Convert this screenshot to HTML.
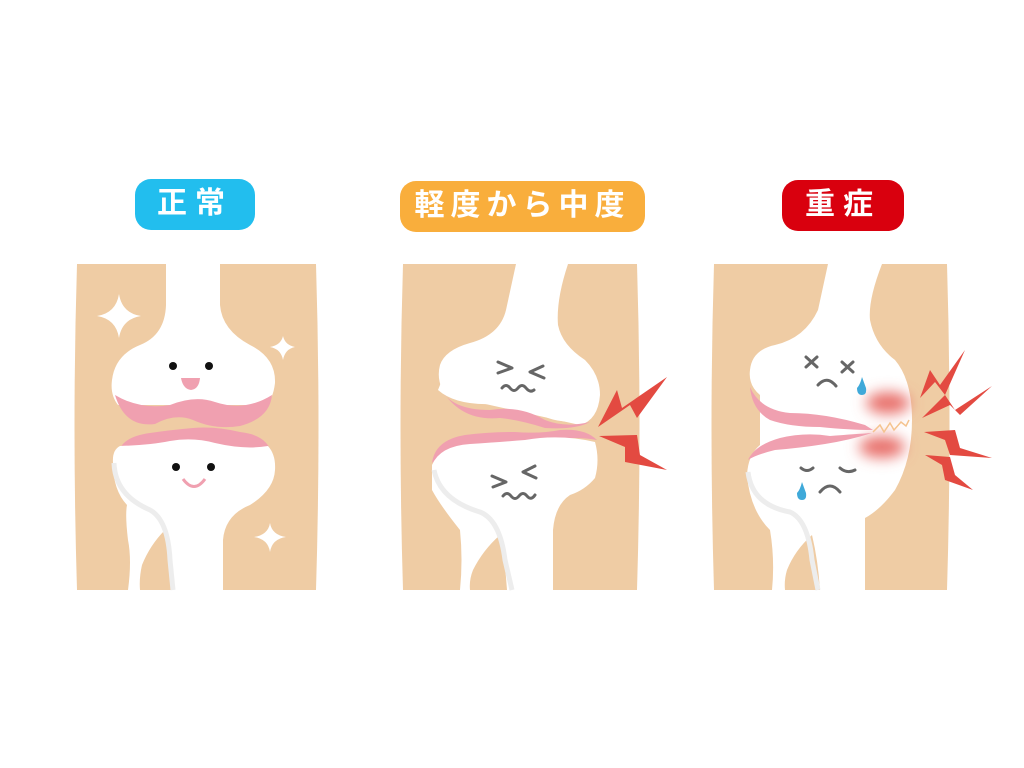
<!DOCTYPE html>
<html><head><meta charset="utf-8"><style>
html,body{margin:0;padding:0;background:#fff;}
.lbl{position:absolute;color:#fff;font-family:"Liberation Sans","Noto Sans CJK JP",sans-serif;font-weight:bold;font-size:30px;text-align:center;line-height:50px;border-radius:16px;letter-spacing:8px;}
</style></head><body>
<div style="position:relative;width:1024px;height:768px;overflow:hidden;">
<svg width="1024" height="768" viewBox="0 0 1024 768" style="position:absolute;left:0;top:0">
<defs><filter id="bl" x="-100%" y="-100%" width="300%" height="300%"><feGaussianBlur stdDeviation="7"/></filter></defs>
<g fill="#EFCCA4">
<path d="M77 264 L316 264 Q321 427 316 590 L77 590 Q72 427 77 264Z"/>
<path d="M403 264 L637 264 Q642 427 637 590 L403 590 Q398 427 403 264Z"/>
<path d="M714 264 L947 264 Q952 427 947 590 L714 590 Q709 427 714 264Z"/>
</g>
<!-- panel 1 -->
<g>
<path fill="#fff" d="M166 264 L220 264 L220 305 Q222 330 250 345 Q276 358 275 383 Q273 400 265 405 L118 405 Q110 395 112 380 Q115 355 140 345 Q165 335 166 305Z"/>
<path fill="#F0A0B0" d="M115 395 Q140 410 170 405 Q195 395 215 402 Q245 412 272 395 Q270 418 240 426 Q215 430 193 420 Q175 413 155 424 Q125 428 115 395Z"/>
<path fill="#F0A0B0" d="M118 455 Q120 437 150 433 Q170 430 193 428 Q215 426 240 432 Q268 435 272 455Z"/>
<path fill="#fff" d="M113 463 Q112 450 120 446 Q150 445 170 441 Q193 437 215 443 Q245 450 268 446 Q276 455 275 470 Q274 490 250 505 Q225 515 223 540 L223 590 L172 590 Q170 560 165 530 Q150 545 142 565 Q139 578 140 590 L128 590 Q132 560 128 540 Q125 515 127 505 Q113 490 113 463Z"/>
<path fill="none" stroke="#EDEDED" stroke-width="5" d="M114 463 Q115 495 150 510 Q168 520 170 560 L173 590"/>
<circle cx="173" cy="366" r="4" fill="#111"/><circle cx="209" cy="366" r="4" fill="#111"/>
<path d="M181 378 L200 378 Q199 389 191 390 Q183 389 181 378Z" fill="#F0A0B0"/>
<circle cx="176" cy="467" r="4" fill="#111"/><circle cx="211" cy="467" r="4" fill="#111"/>
<path d="M183 479 Q194 494 205 479" fill="none" stroke="#F0A0B0" stroke-width="3"/>
<g fill="#fff">
<path d="M119 294 Q122 313 141 316 Q122 319 119 338 Q116 319 97 316 Q116 313 119 294Z"/>
<path d="M283 336 Q285 345 295 347 Q285 349 283 360 Q281 349 270 347 Q281 345 283 336Z"/>
<path d="M270 523 Q272 535 286 537 Q272 539 270 552 Q268 539 254 537 Q268 535 270 523Z"/>
</g>
</g>
<!-- panel 2 -->
<g>
<path fill="#fff" d="M516 264 L568 264 Q556 300 558 325 Q562 345 585 360 Q600 375 600 395 Q598 420 580 425 L445 395 Q436 380 440 365 Q445 350 470 343 Q500 335 506 310Z"/>
<path fill="#F0A0B0" d="M440 387 Q450 410 490 410 Q520 405 545 420 Q565 428 590 422 Q575 430 545 428 Q520 420 500 418 Q460 422 440 387Z"/>
<path fill="#fff" d="M438 390 Q455 405 490 404 Q520 402 548 418 Q568 425 588 418 L570 360 L450 360Z"/>
<path fill="#F0A0B0" d="M432 463 Q435 440 465 435 Q490 432 515 432 Q540 434 560 430 Q585 428 597 440 Q575 436 550 440 Q530 445 505 442 Q450 444 432 463Z"/>
<path fill="#fff" d="M432 465 Q440 446 470 444 Q500 442 525 440 Q560 434 595 442 Q600 460 595 478 Q585 490 570 495 Q555 505 553 530 L553 590 L507 590 Q505 560 500 535 Q483 550 473 570 Q469 580 470 590 L460 590 Q463 560 460 530 Q440 505 432 490Z"/>
<path fill="none" stroke="#EDEDED" stroke-width="5" d="M434 470 Q440 500 480 512 Q500 520 505 560 L512 590"/>
<g fill="none" stroke="#666" stroke-width="3" stroke-linecap="round" stroke-linejoin="round">
<path d="M498 362 L512 368 L498 373"/><path d="M543 366 L530 372 L544 378"/>
<path d="M502 388 Q506 383 510 388 Q514 393 518 388 Q522 383 526 388 Q530 393 534 390"/>
<path d="M492 476 L506 482 L493 487"/><path d="M535 466 L523 472 L536 478"/>
<path d="M503 496 Q507 491 511 496 Q515 501 519 496 Q523 491 527 496 Q531 501 535 495"/>
</g>
<g fill="#E34A41">
<path d="M598 427 L617 390 L622 408 L667 377 L637 418 L630 405Z"/>
<path d="M599 436 L637 435 L640 455 L667 470 L625 462 L625 447Z"/>
</g>
</g>
<!-- panel 3 -->
<g>
<path fill="#fff" d="M828 264 L882 264 Q868 300 870 320 Q875 345 895 360 Q912 380 912 420 Q912 460 895 490 Q880 510 865 518 L865 590 L820 590 Q818 560 812 535 Q795 550 787 570 Q784 580 785 590 L772 590 Q775 560 770 530 Q750 510 747 475 Q748 455 760 445 L760 395 Q748 385 750 370 Q752 350 775 345 Q805 338 818 310Z"/>
<ellipse cx="888" cy="403" rx="22" ry="11" fill="#E8706A" filter="url(#bl)"/>
<ellipse cx="882" cy="447" rx="23" ry="11" fill="#E8706A" filter="url(#bl)"/>
<path fill="#F0A0B0" d="M750 387 Q760 410 790 413 Q825 413 865 425 L873 430 Q850 430 820 427 Q790 427 770 420 Q752 410 750 387Z"/>
<path fill="#F0A0B0" d="M748 460 Q755 445 780 438 Q805 432 830 436 Q855 434 872 433 Q850 440 825 444 Q800 448 775 450 Q755 455 748 460Z"/>
<path d="M873 432 L880 425 L884 432 L890 423 L894 430 L901 422 L906 426 L909 420" fill="none" stroke="#F5C38E" stroke-width="1.5"/>
<path fill="none" stroke="#EDEDED" stroke-width="5" d="M748 472 Q752 505 790 512 Q808 520 812 560 L818 590"/>
<g fill="none" stroke="#666" stroke-width="3" stroke-linecap="round">
<path d="M806 357 L817 367 M817 357 L806 367"/><path d="M842 362 L853 372 M853 362 L842 372"/>
<path d="M818 385 Q827 375 836 386"/>
<path d="M801 468 Q807 473 813 468"/><path d="M840 468 Q847 474 855 470"/>
<path d="M820 492 Q830 480 840 492"/>
</g>
<path d="M862 377 Q860 385 857 388 Q857 395 862 395 Q867 395 866 388Z" fill="#3FA9D9"/>
<path d="M802 482 Q800 490 797 493 Q797 500 802 500 Q807 500 806 493Z" fill="#3FA9D9"/>
<g fill="#E34A41">
<path d="M920 398 L930 370 L940 385 L965 350 L945 395 L935 382Z"/>
<path d="M922 418 L945 395 L955 410 L992 386 L960 415 L950 405Z"/>
<path d="M924 432 L955 430 L960 448 L992 458 L950 455 L945 440Z"/>
<path d="M925 455 L950 457 L955 475 L973 490 L945 480 L942 465Z"/>
</g>
</g>
</svg>
<div class="lbl" style="left:135px;top:179px;width:120px;height:51px;background:#22BEEE;">正常</div>
<div class="lbl" style="left:400px;top:181px;width:245px;height:51px;background:#F9AE3C;letter-spacing:6px;">軽度から中度</div>
<div class="lbl" style="left:782px;top:180px;width:122px;height:51px;background:#D9000E;">重症</div>
</div>
</body></html>
